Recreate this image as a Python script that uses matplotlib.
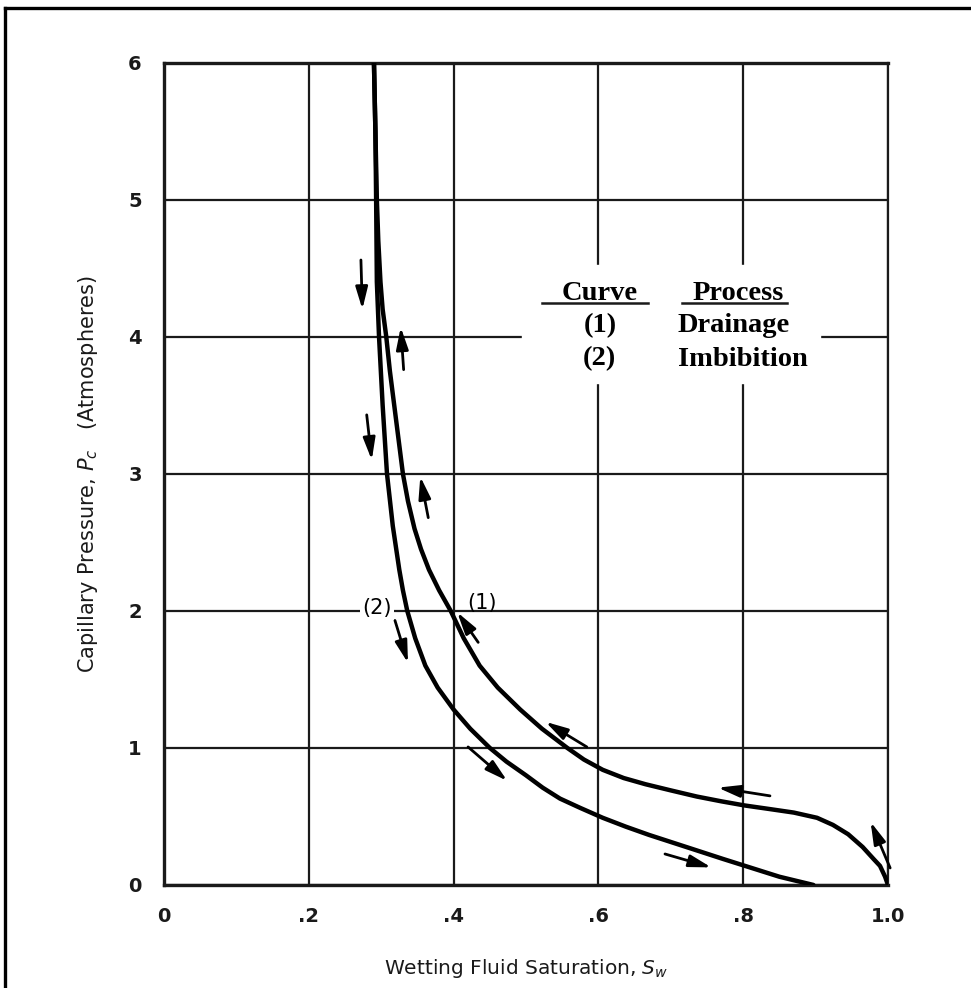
import matplotlib
matplotlib.use("Agg")
import matplotlib.pyplot as plt
from matplotlib.lines import Line2D

# Curve (1) drainage: wetting saturation vs capillary pressure
sw_drain = [0.290, 0.292, 0.294, 0.296, 0.299, 0.302, 0.307, 0.312, 0.318, 0.324,
            0.330, 0.337, 0.346, 0.355, 0.366, 0.380, 0.396, 0.414, 0.436, 0.461,
            0.492, 0.522, 0.557, 0.580, 0.606, 0.635, 0.665, 0.700, 0.736, 0.770,
            0.802, 0.835, 0.870, 0.902, 0.924, 0.945, 0.965, 0.980, 0.989, 0.996,
            1.000]
pc_drain = [6.00, 5.50, 5.00, 4.70, 4.40, 4.20, 4.00, 3.75, 3.50, 3.25,
            3.00, 2.80, 2.60, 2.45, 2.30, 2.15, 2.00, 1.80, 1.60, 1.44,
            1.28, 1.14, 1.00, 0.915, 0.84, 0.78, 0.735, 0.69, 0.645, 0.61,
            0.58, 0.555, 0.528, 0.490, 0.438, 0.37, 0.277, 0.19, 0.139, 0.06,
            0.00]

# Curve (2) imbibition
sw_imb = [0.290, 0.292, 0.293, 0.294, 0.297, 0.302, 0.308, 0.316, 0.325, 0.330,
          0.336, 0.347, 0.361, 0.378, 0.400, 0.423, 0.450, 0.473, 0.500, 0.523,
          0.547, 0.575, 0.606, 0.638, 0.670, 0.705, 0.740, 0.772, 0.802, 0.826,
          0.850, 0.875, 0.897]
pc_imb = [6.00, 5.50, 5.00, 4.40, 4.00, 3.50, 3.00, 2.62, 2.30, 2.15,
          2.00, 1.80, 1.60, 1.44, 1.28, 1.14, 1.00, 0.90, 0.80, 0.71,
          0.63, 0.562, 0.49, 0.425, 0.365, 0.305, 0.245, 0.19, 0.14, 0.10,
          0.06, 0.028, 0.00]

# direction arrows (tail Sw, tail Pc, head Sw, head Pc)
arrows = [
    (0.272, 4.56, 0.274, 4.20),
    (0.331, 3.76, 0.327, 4.07),
    (0.280, 3.43, 0.287, 3.10),
    (0.365, 2.68, 0.354, 2.98),
    (0.319, 1.93, 0.337, 1.62),
    (0.434, 1.77, 0.405, 1.99),
    (0.584, 1.007, 0.527, 1.19),
    (0.420, 1.007, 0.474, 0.76),
    (0.837, 0.65, 0.765, 0.71),
    (0.692, 0.226, 0.756, 0.128),
    (1.003, 0.124, 0.976, 0.46),
]

x_ticks = [0, 0.2, 0.4, 0.6, 0.8, 1.0]
x_labels = ["0", ".2", ".4", ".6", ".8", "1.0"]
y_ticks = [0, 1, 2, 3, 4, 5, 6]

ink = "#1a1a1a"

fig = plt.figure(figsize=(9.71, 9.88), dpi=100)
ax = fig.add_axes([0.1689, 0.1043, 0.7456, 0.8323])
ax.set_xlim(0, 1.0)
ax.set_ylim(0, 6)

ax.set_xticks(x_ticks)
ax.set_xticklabels(x_labels)
ax.set_yticks(y_ticks)
ax.tick_params(length=0, pad=16, labelsize=14, colors=ink)
for lab in ax.get_xticklabels() + ax.get_yticklabels():
    lab.set_fontweight("bold")

ax.grid(True, color=ink, linewidth=1.6)
ax.set_axisbelow(True)
for side in ["top", "left", "bottom"]:
    ax.spines[side].set_linewidth(2.4)
    ax.spines[side].set_color(ink)
ax.spines["right"].set_linewidth(1.6)
ax.spines["right"].set_color(ink)

ax.plot(sw_drain, pc_drain, color="black", lw=3.2, solid_joinstyle="round",
        solid_capstyle="round", zorder=4)
ax.plot(sw_imb, pc_imb, color="black", lw=3.2, solid_joinstyle="round",
        solid_capstyle="round", zorder=4)

for x0, y0, x1, y1 in arrows:
    ax.annotate("", xy=(x1, y1), xytext=(x0, y0),
                arrowprops=dict(arrowstyle="-|>,head_length=0.95,head_width=0.26",
                                color="black", lw=2, shrinkA=0, shrinkB=0,
                                mutation_scale=14),
                zorder=5)

# white patch behind the legend table
ax.fill_between([0.494, 0.906], 3.66, 4.52, color="white", zorder=2)

serif = "Liberation Serif"
fs = 20.5
ax.text(0.602, 4.27, "Curve", ha="center", va="baseline", fontsize=fs,
        fontweight="bold", family=serif, zorder=6)
ax.text(0.793, 4.27, "Process", ha="center", va="baseline", fontsize=fs,
        fontweight="bold", family=serif, zorder=6)
ax.plot([0.522, 0.669], [4.245, 4.245], color=ink, lw=1.8, zorder=6)
ax.plot([0.715, 0.860], [4.245, 4.245], color=ink, lw=1.8, zorder=6)
ax.text(0.602, 4.035, "(1)", ha="center", va="baseline", fontsize=fs,
        fontweight="bold", family=serif, zorder=6)
ax.text(0.787, 4.035, "Drainage", ha="center", va="baseline", fontsize=fs,
        fontweight="bold", family=serif, zorder=6)
ax.text(0.602, 3.79, "(2)", ha="center", va="baseline", fontsize=fs,
        fontweight="bold", family=serif, zorder=6)
ax.text(0.800, 3.79, "Imbibition", ha="center", va="baseline", fontsize=fs,
        fontweight="bold", family=serif, zorder=6)

# curve labels
ax.text(0.294, 2.02, "(2)", ha="center", va="center", fontsize=15, zorder=6,
        bbox=dict(facecolor="white", edgecolor="none", pad=1.5))
ax.text(0.439, 2.06, "(1)", ha="center", va="center", fontsize=15, zorder=6)

ax.set_xlabel("Wetting Fluid Saturation, $S_w$", fontsize=14.5, labelpad=22,
              color=ink)
ax.set_ylabel("Capillary Pressure, $P_c$   (Atmospheres)", fontsize=15,
              labelpad=20, color=ink)

# outer frame (open to the right and bottom)
fig.add_artist(Line2D([5 / 971, 5 / 971], [0, 1 - 8 / 988], color="black",
                      lw=2.4, transform=fig.transFigure))
fig.add_artist(Line2D([5 / 971, 1], [1 - 8 / 988, 1 - 8 / 988], color="black",
                      lw=2.4, transform=fig.transFigure))

fig.savefig("out.png", dpi=100, facecolor="white")
